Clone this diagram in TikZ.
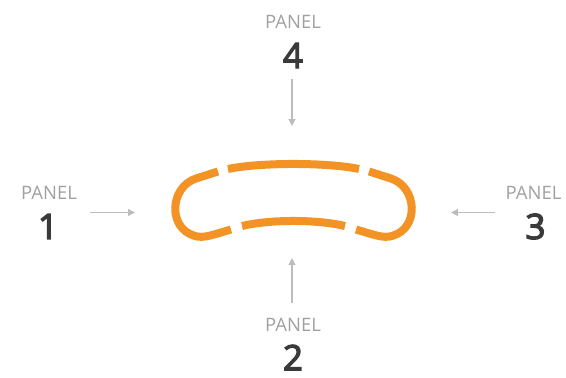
\documentclass[tikz,border=0pt]{standalone}
\usepackage{fontspec}
\setmainfont{Open Sans}
\newfontfamily\digitfont{Open Sans}[FakeBold=3.5]
\usetikzlibrary{arrows.meta}
\definecolor{bandorange}{HTML}{F39325}
\definecolor{arrowgray}{HTML}{BDBDBD}
\definecolor{labelgray}{HTML}{A0A0A0}
\definecolor{digitgray}{HTML}{3A3A3A}
\tikzset{
  panellabel/.style={inner sep=0pt, text=labelgray, font=\fontsize{18.5}{20}\selectfont},
  panelnum/.style={inner sep=0pt, text=digitgray, font=\digitfont\fontsize{35}{36}\selectfont},
  pointer/.style={draw=arrowgray, line width=1.2pt, -{Triangle[length=7pt,width=7pt]}},
  band/.style={draw=bandorange, line width=8pt, line cap=butt}
}
\begin{document}
\begin{tikzpicture}[x=1pt,y=-1pt]
\useasboundingbox (0,0) rectangle (566,378);
% labels
\node[panellabel] (p1) at (49,192.5) {PANEL};
\node[panelnum] (n1) at (48,226.5) {1};
\node[panellabel] (p4) at (293,22) {PANEL};
\node[panelnum] (n4) at (293,55.5) {4};
\node[panellabel] (p3) at (533.5,192.5) {PANEL};
\node[panelnum] (n3) at (535.5,226.5) {3};
\node[panellabel] (p2) at (293,324.5) {PANEL};
\node[panelnum] (n2) at (293,357.5) {2};
% arrow ends
\coordinate (a1s) at (90,212.5);
\coordinate (a1e) at (135,212.5);
\coordinate (a3s) at (495,212.5);
\coordinate (a3e) at (451,212.5);
\coordinate (a4s) at (292,79);
\coordinate (a4e) at (292,126);
\coordinate (a2s) at (292,303);
\coordinate (a2e) at (292,258);
\draw[pointer] (a1s) -- (a1e);
\draw[pointer] (a3s) -- (a3e);
\draw[pointer] (a4s) -- (a4e);
\draw[pointer] (a2s) -- (a2e);
% band pieces
\draw[band] (218,171.5) -- (196,178.5) .. controls (170,187) and (167,228) .. (195,236) .. controls (204,238.5) and (212,235) .. (231,229.5);
\draw[band] (369,171.5) -- (391,178.5) .. controls (417,187) and (420,228) .. (392,236) .. controls (383,238.5) and (375,235) .. (356,229.5);
\draw[band] (228,169) .. controls (260,162.3) and (327,162.3) .. (359,169);
\draw[band] (242,226) .. controls (270,219.3) and (317,219.3) .. (345,226);
\end{tikzpicture}
\end{document}
